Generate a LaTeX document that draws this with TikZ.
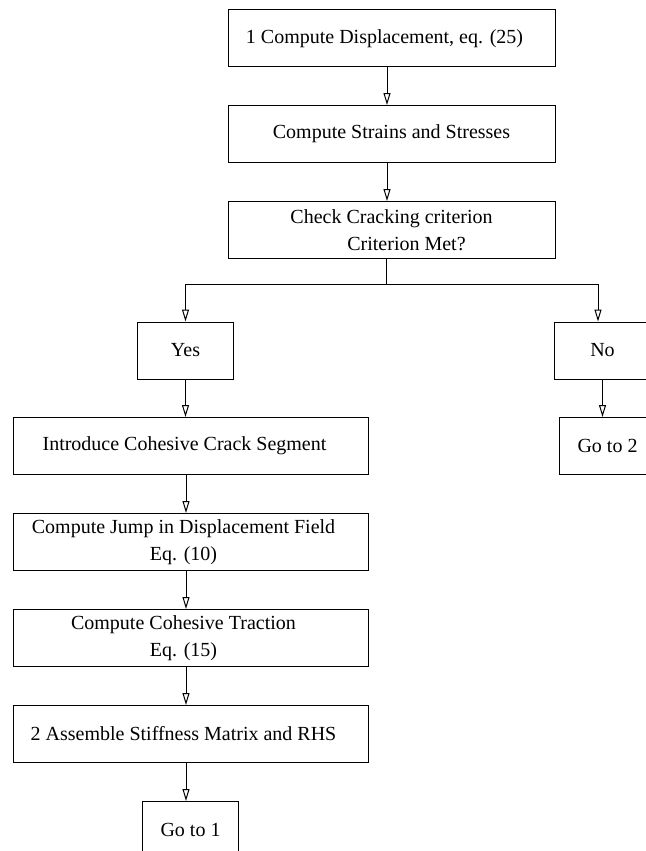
\documentclass[tikz,border=0pt]{standalone}
\usepackage{fontspec}
\setmainfont{Liberation Serif}
\usetikzlibrary{arrows.meta}

\tikzset{
	stepbox/.style={draw, line width=1pt, align=center, inner sep=0pt,
		minimum height=57pt, font=\fontsize{20}{26.5}\selectfont},
	widebox/.style={stepbox, minimum width=327pt},
	longbox/.style={stepbox, minimum width=355pt},
	smallbox/.style={stepbox, minimum width=96pt},
	flow/.style={line width=1pt, -{Triangle[open,length=12pt,width=7pt]}}
}

\begin{document}
\begin{tikzpicture}[x=1pt,y=-1pt]
	\useasboundingbox (0,0) rectangle (645,851);
	% main column
	\node[widebox] (disp) at (391.5,38.5) {1 Compute Displacement, eq. (25)\hspace*{14pt}};
	\node[widebox] (strain) at (391.5,134) {Compute Strains and Stresses};
	\node[widebox] (check) at (391.5,230) {Check Cracking criterion\\\hspace*{30pt}Criterion Met?};
	% branches
	\node[smallbox] (yes) at (185.5,350.5) {Yes};
	\node[smallbox] (no) at (602.5,350.5) {No};
	\node[smallbox] (goto2) at (607.5,446) {Go to 2};
	\node[longbox] (intro) at (190.5,446) {Introduce Cohesive Crack Segment\hspace*{12pt}};
	\node[longbox] (jump) at (190.5,542) {Compute Jump in Displacement Field\hspace*{14pt}\\Eq. (10)\hspace*{14pt}};
	\node[longbox] (traction) at (190.5,638) {Compute Cohesive Traction\hspace*{14pt}\\Eq. (15)\hspace*{14pt}};
	\node[longbox] (assemble) at (190.5,734) {2 Assemble Stiffness Matrix and RHS\hspace*{14pt}};
	\node[smallbox] (goto1) at (190.5,830) {Go to 1};

	\draw[flow] ([xshift=-4.5pt]disp.south) -- ([xshift=-4.5pt]strain.north);
	\draw[flow] ([xshift=-4.5pt]strain.south) -- ([xshift=-4.5pt]check.north);
	\draw[line width=1pt] ([xshift=-5pt]check.south) -- ++(0,25) coordinate (split);
	\draw[flow] (split) -| (yes);
	\draw[flow] (split) -| ([xshift=-4.5pt]no.north);
	\draw[flow] (no) -- (no |- goto2.north);
	\draw[flow] (yes) -- (yes |- intro.north);
	\draw[flow] ([xshift=-4.5pt]intro.south) -- ([xshift=-4.5pt]jump.north);
	\draw[flow] ([xshift=-4.5pt]jump.south) -- ([xshift=-4.5pt]traction.north);
	\draw[flow] ([xshift=-4.5pt]traction.south) -- ([xshift=-4.5pt]assemble.north);
	\draw[flow] ([xshift=-4.5pt]assemble.south) -- ([xshift=-4.5pt]goto1.north);
\end{tikzpicture}
\end{document}
